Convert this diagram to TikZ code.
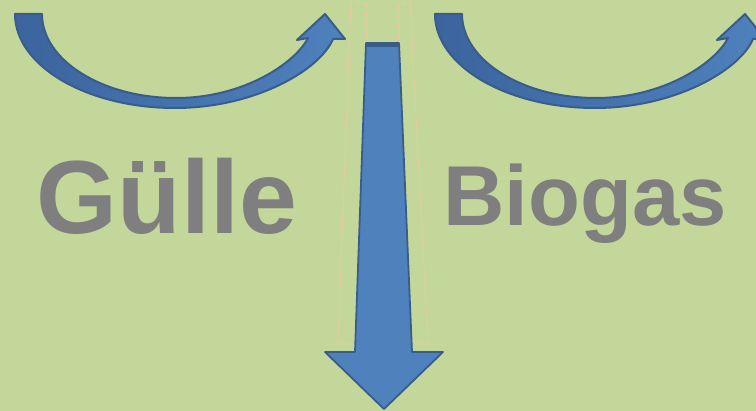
\documentclass[tikz,border=0pt]{standalone}
\usepackage{fontspec}
\setmainfont{Liberation Sans}
\usepackage{tikz}
\usetikzlibrary{arrows.meta,positioning,calc}
\usepackage{xcolor}
\definecolor{bggreen}{RGB}{196,215,155}
\definecolor{arrowblue}{RGB}{79,129,189}
\definecolor{arrowdark}{RGB}{56,93,138}
\definecolor{curvedark}{RGB}{60,100,158}
\definecolor{labelgray}{RGB}{127,127,127}
\definecolor{guidetan}{RGB}{240,200,160}

\tikzset{
  blockarrow/.style={draw=arrowdark, line width=1.8pt, line join=round, fill=arrowblue},
  curvearrow/.style={draw=arrowdark, line width=2pt, line join=round, left color=curvedark, right color=arrowblue},
  guideline/.style={draw=guidetan, line width=0.8pt, dash pattern=on 7pt off 3pt},
  labeltext/.style={text=labelgray, inner sep=0pt, anchor=base, font=\bfseries}
}

\begin{document}
\begin{tikzpicture}[x=1pt, y=-1pt]
\useasboundingbox (0,0) rectangle (756,411);
\clip (0,0) rectangle (756,411);
\fill[bggreen] (0,0) rectangle (756,411);

% faint guide lines around the middle arrow
\draw[guideline] (351,0) -- (338,343) -- (354,343);
\draw[guideline] (410,0) -- (428,343) -- (412,343);
\draw[guideline] (357,0) -- (357,3) -- (366,3) -- (366,43);
\draw[guideline] (405,0) -- (405,3) -- (398,3) -- (398,43);

% curved arrows at the top
\foreach \dx in {0,420}{
  \path[curvearrow, xshift=\dx pt]
    (15,14) -- (42,14) .. controls (42,60) and (102,98) .. (176,98)
    .. controls (245,98) and (296,62) .. (308,38) -- (297,40) -- (325,14)
    -- (345,39) -- (333,39) .. controls (320,70) and (255,108) .. (175,108)
    .. controls (87,108) and (15,66) .. (15,14) -- cycle;
}

% middle arrow
\path[blockarrow] (366,43) -- (399,43) -- (412,352) -- (443,352) -- (384,409)
  -- (325,352) -- (355,352) -- cycle;
\draw[arrowdark, line width=4pt] (366,45) -- (399,45);

\node[labeltext] (gulle) at (167,234) {\fontsize{104}{110}\selectfont Gülle};
\node[labeltext] (biogas) at (585,226) {\fontsize{85}{92}\selectfont Biogas};
\end{tikzpicture}
\end{document}
